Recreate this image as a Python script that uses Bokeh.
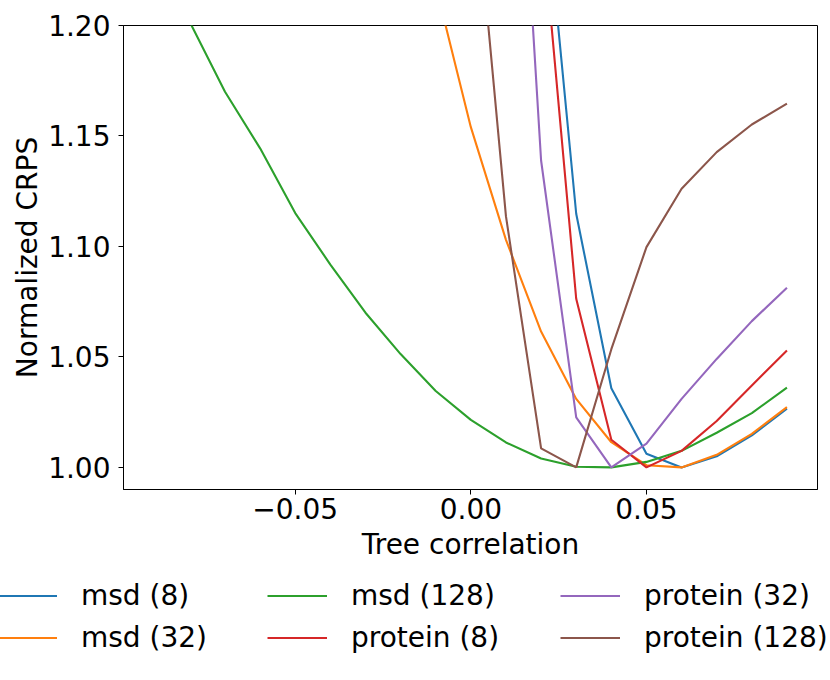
from bokeh.plotting import figure
from bokeh.models import (Range1d, FixedTicker, CustomJSTickFormatter, Legend,
                          LegendItem)
from bokeh.embed import file_html
from bokeh.resources import INLINE

nan = float("nan")

# ---- data ----
correlation = [-0.08, -0.07, -0.06, -0.05, -0.04, -0.03, -0.02, -0.01, 0.00,
               0.01, 0.02, 0.03, 0.04, 0.05, 0.06, 0.07, 0.08, 0.09]

msd_8 = [nan, nan, nan, nan, nan, nan, nan, nan, nan,
         nan, 1.280, 1.1148, 1.0358, 1.0062, 1.0000, 1.0050, 1.0145, 1.0266]
msd_32 = [nan, nan, nan, nan, nan, nan, nan, 1.218, 1.1540,
          1.103, 1.0615, 1.0310, 1.0114, 1.0010, 1.0000, 1.0057, 1.0152, 1.0273]
msd_128 = [1.2015, 1.170, 1.1444, 1.1151, 1.0918, 1.0700, 1.0513, 1.0346, 1.0215,
           1.0113, 1.0040, 1.0003, 1.0000, 1.0025, 1.0075, 1.0157, 1.0246, 1.0361]
protein_8 = [nan, nan, nan, nan, nan, nan, nan, nan, nan,
             nan, 1.252, 1.0763, 1.0125, 1.0000, 1.0075, 1.0210, 1.0371, 1.0529]
protein_32 = [nan, nan, nan, nan, nan, nan, nan, nan, nan,
              1.399, 1.1389, 1.0226, 1.0000, 1.0108, 1.0310, 1.0491, 1.0662, 1.0813]
protein_128 = [nan, nan, nan, nan, nan, nan, nan, nan, 1.285,
               1.1136, 1.0086, 1.0000, 1.0535, 1.0997, 1.1261, 1.1427, 1.1552, 1.1646]

series_names = ["msd (8)", "msd (32)", "msd (128)",
                "protein (8)", "protein (32)", "protein (128)"]
series_values = [msd_8, msd_32, msd_128, protein_8, protein_32, protein_128]
series_colors = ["#1f77b4", "#ff7f0e", "#2ca02c", "#d62728", "#9467bd", "#8c564b"]

x_ticks = [-0.05, 0.0, 0.05]
y_ticks = [1.00, 1.05, 1.10, 1.15, 1.20]

FONT = "DejaVu Sans"
FS = "28px"
W = 830

# ---------------- main chart ----------------
p = figure(width=W, height=580, output_backend="svg", toolbar_location=None,
           x_range=Range1d(-0.0989, 0.0987), y_range=Range1d(0.99, 1.2),
           min_border_left=123, min_border_right=13, min_border_top=25,
           min_border_bottom=91)

for name, vals, col in zip(series_names, series_values, series_colors):
    p.line(correlation, vals, line_color=col, line_width=2.1)

p.xgrid.visible = False
p.ygrid.visible = False
p.outline_line_color = "black"
p.outline_line_width = 1
p.background_fill_color = "white"
p.border_fill_color = "white"

fmt = CustomJSTickFormatter(code="""
    return (tick < -1e-9 ? "\\u2212" : "") + Math.abs(tick).toFixed(2);
""")

for ax, ticks in ((p.xaxis[0], x_ticks), (p.yaxis[0], y_ticks)):
    ax.ticker = FixedTicker(ticks=ticks)
    ax.formatter = fmt
    ax.minor_tick_line_color = None
    ax.major_tick_in = 0
    ax.major_tick_out = 5
    ax.major_tick_line_color = "black"
    ax.axis_line_color = "black"
    ax.major_label_text_font = FONT
    ax.major_label_text_font_size = FS
    ax.major_label_text_color = "black"
    ax.axis_label_text_font = FONT
    ax.axis_label_text_font_size = FS
    ax.axis_label_text_font_style = "normal"
    ax.axis_label_text_color = "black"

p.xaxis.axis_label = "Tree correlation"
p.yaxis.axis_label = "Normalized CRPS"
p.xaxis.major_label_standoff = 3
p.xaxis.axis_label_standoff = 6
p.yaxis.major_label_standoff = 8
p.yaxis.axis_label_standoff = 1

# ---------------- legend strip below ----------------
lg = figure(width=W, height=100, output_backend="svg", toolbar_location=None,
            x_axis_type=None, y_axis_type=None,
            x_range=Range1d(0, 1), y_range=Range1d(0, 1),
            min_border_left=0, min_border_right=0, min_border_top=0,
            min_border_bottom=0)
lg.outline_line_color = None
lg.xgrid.visible = False
lg.ygrid.visible = False
lg.background_fill_color = "white"
lg.border_fill_color = "white"

legend_renderers = []
for name, vals, col in zip(series_names, series_values, series_colors):
    r = lg.line(correlation, vals, line_color=col, line_width=2.1, visible=False)
    legend_renderers.append(r)

columns = [[0, 1], [2, 3], [4, 5]]
col_x = [-3, 267, 560]
for idxs, lx in zip(columns, col_x):
    items = [LegendItem(label=series_names[i], renderers=[legend_renderers[i]])
             for i in idxs]
    leg = Legend(items=items, location=(lx, 26), orientation="vertical")
    leg.border_line_alpha = 0
    leg.background_fill_alpha = 0
    leg.inactive_fill_alpha = 0
    leg.padding = 0
    leg.margin = 0
    leg.spacing = 9
    leg.glyph_width = 60
    leg.glyph_height = 33
    leg.label_height = 33
    leg.label_standoff = 24
    leg.label_text_font = FONT
    leg.label_text_font_size = FS
    leg.label_text_color = "black"
    lg.add_layout(leg, "center")

open("out.html", "w").write(file_html([p, lg], INLINE))
